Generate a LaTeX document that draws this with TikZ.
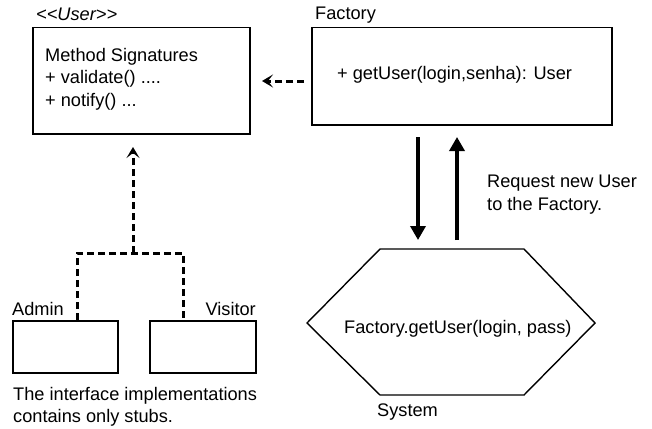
\documentclass[tikz,border=0pt]{standalone}
\usepackage{fontspec}
\setmainfont{Liberation Sans}
\usetikzlibrary{arrows.meta}
\begin{document}
\begin{tikzpicture}[x=1pt, y=-1pt,
  every node/.style={inner sep=0pt, font=\fontsize{18.2}{21}\selectfont},
  box/.style={draw, line width=1.5pt, anchor=north west},
  lbl/.style={anchor=base west},
  solidarrow/.style={line width=3.4pt, -{Triangle[length=14pt,width=15pt]}},
  dasharrow/.style={line width=3pt, dash pattern=on 7pt off 4pt},
  dashtip/.style={-{Stealth[length=11pt,width=13pt,inset=5pt]}}]
  \useasboundingbox (0,0) rectangle (652,428);

  % class boxes
  \node[box, minimum width=217pt, minimum height=106pt] (user) at (32,27) {};
  \node[box, minimum width=300pt, minimum height=97pt] (factory) at (311,27) {};
  \node[box, minimum width=105pt, minimum height=52pt] (admin) at (12,320) {};
  \node[box, minimum width=106pt, minimum height=52pt] (visitor) at (149,320) {};

  % box titles
  \node[lbl] (userT) at (36,21) {\itshape <{}<User>{}>};
  \node[lbl] (factoryT) at (315,20) {Factory};
  \node[lbl] (adminT) at (12,315) {Admin};
  \node[lbl, anchor=base east] (visitorT) at (256,315) {Visitor};

  % box contents
  \node[lbl] (m1) at (45,61) {Method Signatures};
  \node[lbl] (m2) at (45,83.5) {+ validate() ....};
  \node[lbl] (m3) at (45,106) {+ notify() ...};
  \node[lbl] (gu) at (337,79) {+ getUser(login,senha): User};

  % system hexagon
  \coordinate (h1) at (307,323);
  \coordinate (h2) at (380,249);
  \coordinate (h3) at (524,249);
  \coordinate (h4) at (595,323);
  \coordinate (h5) at (524,395);
  \coordinate (h6) at (380,395);
  \draw[line width=1.4pt, line join=miter] (h1) -- (h2) -- (h3) -- (h4) -- (h5) -- (h6) -- cycle;
  \node[lbl] (call) at (344,333) {Factory.getUser(login, pass)};
  \node[lbl] (sysT) at (377,416) {System};

  % notes
  \node[lbl] (req1) at (487,187) {Request new User};
  \node[lbl] (req2) at (487,210) {to the Factory.};
  \node[lbl] (note1) at (13,400) {The interface implementations};
  \node[lbl] (note2) at (13,422) {contains only stubs.};

  % factory <-> system
  \coordinate (dTop) at (418,137);
  \coordinate (dBot) at (418,240);
  \coordinate (uBot) at (457,240);
  \coordinate (uTop) at (457,137);
  \draw[solidarrow] (dTop) -- (dBot);
  \draw[solidarrow] (uBot) -- (uTop);

  % factory creates user
  \coordinate (fa) at (304,81);
  \coordinate (ua) at (262,81);
  \draw[dasharrow, dashtip] (fa) -- (ua);

  % realisation of the interface
  \coordinate (aTop) at (77,320);
  \coordinate (vTop) at (183,320);
  \coordinate (aMid) at (77,253);
  \coordinate (vMid) at (183,253);
  \coordinate (join) at (133,253);
  \coordinate (iTip) at (133,147);
  \draw[dasharrow] (aTop) -- (aMid) -- (vMid) -- (vTop);
  \draw[dasharrow, dashtip] (join) -- (iTip);
\end{tikzpicture}
\end{document}
